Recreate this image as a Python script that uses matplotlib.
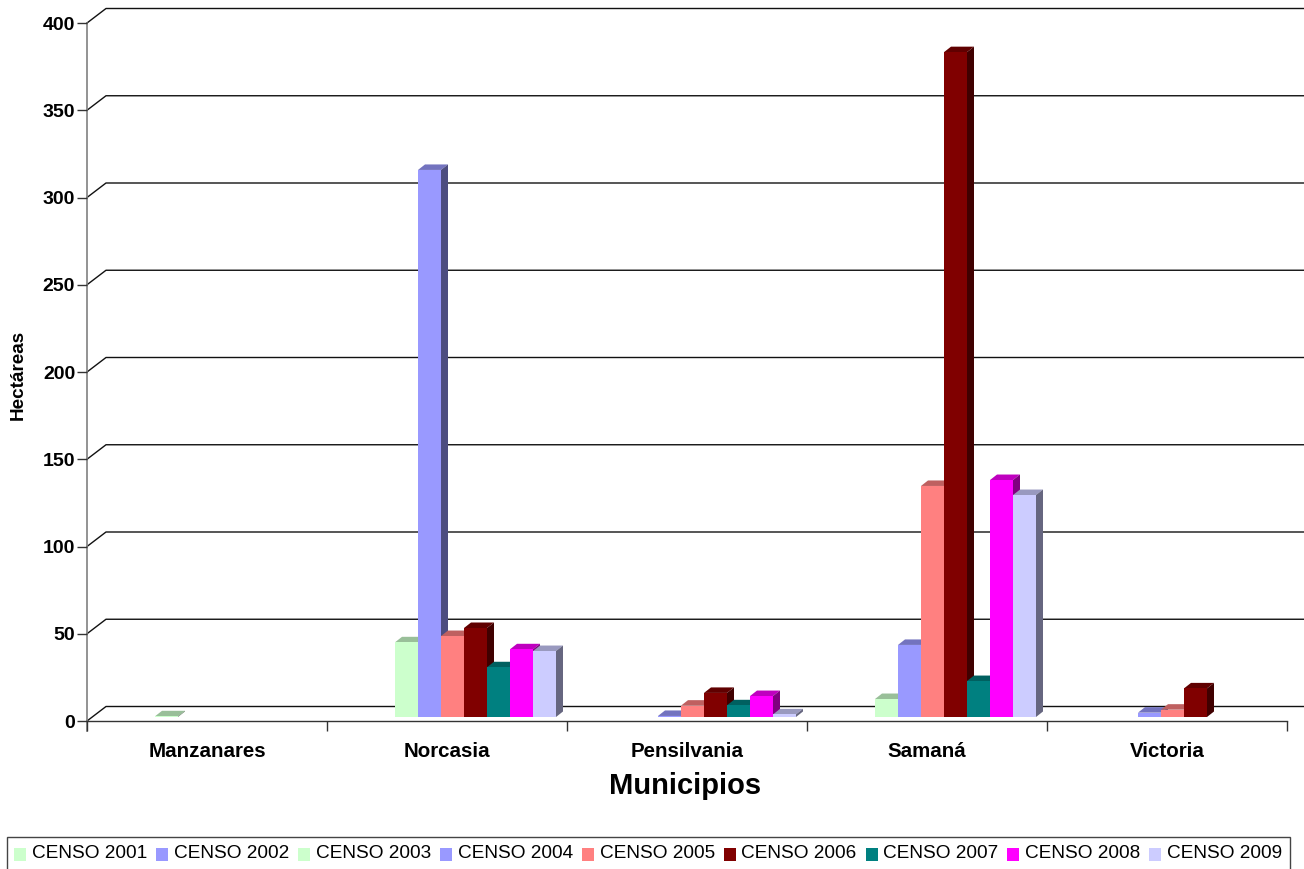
import numpy as np
import matplotlib
matplotlib.use("Agg")
import matplotlib.pyplot as plt
from matplotlib.patches import Patch

plt.rcParams['font.family'] = ['Liberation Sans', 'DejaVu Sans']

municipios = ["Manzanares", "Norcasia", "Pensilvania", "Samaná", "Victoria"]
censos = ["CENSO 2001", "CENSO 2002", "CENSO 2003", "CENSO 2004", "CENSO 2005",
          "CENSO 2006", "CENSO 2007", "CENSO 2008", "CENSO 2009"]
colores = ["#CCFFCC", "#9999FF", "#CCFFCC", "#9999FF", "#FF8080",
           "#800000", "#008080", "#FF00FF", "#CCCCFF"]

nan = np.nan
censo_2001 = [nan, nan, nan, nan, nan]
censo_2002 = [nan, nan, nan, nan, nan]
censo_2003 = [0.4, 42.8, nan, 10.3, nan]
censo_2004 = [nan, 313.5, 0.6, 41.3, 2.5]
censo_2005 = [nan, 46.4, 6.5, 132.4, 4.2]
censo_2006 = [nan, 51, 13.8, 381, 16.4]
censo_2007 = [nan, 28.5, 6.7, 20.6, nan]
censo_2008 = [nan, 38.8, 12, 135.8, nan]
censo_2009 = [nan, 37.8, 1.5, 127.2, nan]
series = [censo_2001, censo_2002, censo_2003, censo_2004, censo_2005,
          censo_2006, censo_2007, censo_2008, censo_2009]

# pixel sizes of the fake 3d box, turned into data units below
W, H = 1304, 869
px_x = 5 / 1200
px_y = 400 / 698
fondo_x, fondo_y = 19 * px_x, 14.5 * px_y
frente_x, frente_y = 5.5 * px_x, 4 * px_y
prof_x, prof_y = 7 * px_x, 5.5 * px_y
margen = 16.5 * px_x
ancho = 23 * px_x


def oscurecer(color, f):
    r, g, b = matplotlib.colors.to_rgb(color)
    return (r * f, g * f, b * f)


fig = plt.figure(figsize=(W / 100, H / 100), dpi=100)
ax = fig.add_axes([87 / W, (H - 721) / H, 1200 / W, 698 / H])
ax.set_xlim(0, 5)
ax.set_ylim(0, 400)
ax.patch.set_visible(False)

# back wall lines
for v in range(0, 401, 50):
    ax.plot([0, fondo_x, 5 + fondo_x], [v, v + fondo_y, v + fondo_y],
            color="#111111", lw=1, clip_on=False, zorder=1)

z = 2
for c in range(len(municipios)):
    for s in range(len(series)):
        v = series[s][c]
        if np.isnan(v):
            continue
        x0 = c + margen + s * ancho + frente_x
        x1 = x0 + ancho
        y0 = frente_y
        y1 = y0 + v
        col = colores[s]
        ax.fill([x0, x1, x1 + prof_x, x0 + prof_x], [y1, y1, y1 + prof_y, y1 + prof_y],
                color=oscurecer(col, 0.75), lw=0, clip_on=False, zorder=z)
        ax.fill([x1, x1 + prof_x, x1 + prof_x, x1], [y0, y0 + prof_y, y1 + prof_y, y1],
                color=oscurecer(col, 0.5), lw=0, clip_on=False, zorder=z)
        ax.bar(x0, v, width=ancho, bottom=y0, align="edge", color=col, lw=0, zorder=z + 1)
        z += 2

for lado in ["top", "right"]:
    ax.spines[lado].set_visible(False)
ax.spines["left"].set_color("#808080")
ax.spines["left"].set_linewidth(1.2)
ax.spines["bottom"].set_color("#333333")
ax.spines["bottom"].set_linewidth(1)
ax.spines["left"].set_zorder(1)

ax.set_yticks(range(0, 401, 50))
ax.set_xticks(range(6))
ax.set_xticklabels([])
ax.tick_params(axis="y", length=7, width=1, color="#333333", pad=1.5, labelsize=14)
ax.tick_params(axis="x", length=7.5, width=1, color="#333333")
for t in ax.get_yticklabels():
    t.set_fontweight("bold")

ax.set_xticks(np.arange(5) + 0.5, minor=True)
ax.set_xticklabels(municipios, minor=True, fontsize=14.8, fontweight="bold")
ax.tick_params(axis="x", which="minor", length=0, pad=14.8)

# vertical axis line keeps going down to the tick end
ax.plot([0, 0], [0, -10 * px_y], color="#808080", lw=1.2, clip_on=False, zorder=1)

fig.text(685.5 / W, 1 - 786 / H, "Municipios", fontsize=21, fontweight="bold", ha="center", va="center")
fig.text(18 / W, 1 - 375 / H, "Hectáreas", fontsize=13.6, fontweight="bold", rotation=90, ha="center", va="center")

handles = [Patch(facecolor=colores[i], edgecolor="none") for i in range(len(censos))]
leg = fig.legend(handles, censos, ncol=9, loc="upper left", bbox_to_anchor=(6.5 / W, 1 - 837 / H),
                 bbox_transform=fig.transFigure, borderaxespad=0, fontsize=13.7,
                 fancybox=False, framealpha=1, edgecolor="#444444",
                 handlelength=0.63, handleheight=0.72, handletextpad=0.3, columnspacing=0.47,
                 borderpad=0.42)
leg.get_frame().set_linewidth(1)
for h in leg.legend_handles:
    h.set_y(h.get_y() - 2)

fig.savefig("out.png", dpi=100)
